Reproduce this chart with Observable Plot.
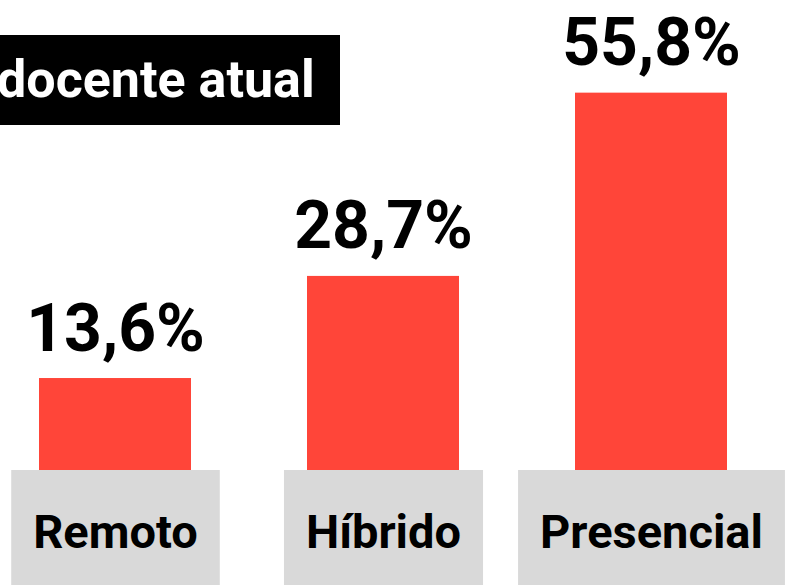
<!DOCTYPE html>
<html>
<head>
<meta charset="utf-8">
<script src="https://cdn.jsdelivr.net/npm/d3@7"></script>
<script src="https://cdn.jsdelivr.net/npm/@observablehq/plot@0.6"></script>
<style>
  html, body { margin: 0; padding: 0; background: #ffffff; }
  #wrap { position: relative; width: 787px; height: 585px; overflow: hidden; }
  #title {
    position: absolute; left: 0; top: 35px; width: 340px; height: 90px;
    background: #000000; color: #ffffff;
    font-family: Roboto, "Noto Sans", sans-serif; font-weight: 700; font-size: 52px;
    line-height: 90px; white-space: nowrap; box-sizing: border-box; padding-left: 0;
    text-indent: -3px; z-index: 2;
  }
  svg { display: block; }
</style>
</head>
<body>
<div id="wrap">
  <div id="title"></div>
</div>
<script>
const categories = ["Remoto", "Híbrido", "Presencial"];
const values = [13.6, 28.7, 55.8];
const valueLabels = ["13,6%", "28,7%", "55,8%"];
const titleText = "docente atual";

const data = categories.map((c, i) => ({category: c, value: values[i], label: valueLabels[i]}));

const chart = Plot.plot({
  width: 787,
  height: 585,
  marginTop: 0,
  marginBottom: 115,
  marginLeft: 39,
  marginRight: 60,
  style: {background: "transparent", fontFamily: "Roboto, 'Noto Sans', sans-serif"},
  x: {type: "band", domain: categories, paddingInner: 0.433, paddingOuter: 0, axis: null},
  y: {domain: [0, 69.5], axis: null},
  marks: [
    Plot.barY(data, {x: "category", y: "value", fill: "#ff4539"}),
    Plot.text(data, {
      x: "category", y: "value", text: "label",
      lineAnchor: "bottom", dy: -28,
      fontSize: 66, fontWeight: 700, fill: "#000000"
    }),
    Plot.text(categories, {
      x: d => d, frameAnchor: "bottom", text: d => d,
      lineAnchor: "bottom", dy: 77,
      fontSize: 47, fontWeight: 700, fill: "#000000"
    })
  ]
});

document.getElementById("wrap").appendChild(chart);
document.getElementById("title").textContent = titleText;

// gray label boxes sized to each category label
const y0 = chart.scale("y").apply(0);
const svgRect = chart.getBoundingClientRect();
const catTexts = Array.from(chart.querySelectorAll("text"))
  .filter(t => categories.includes(t.textContent));
const boxes = catTexts.map(t => {
  const r = t.getBoundingClientRect();
  return {x: r.left - svgRect.left - 22, w: r.width + 44};
});
if (catTexts.length) {
  const parent = catTexts[0].parentNode;
  const g = document.createElementNS("http://www.w3.org/2000/svg", "g");
  parent.parentNode.insertBefore(g, parent);
  d3.select(g).selectAll("rect").data(boxes).join("rect")
    .attr("x", d => d.x).attr("width", d => d.w)
    .attr("y", y0).attr("height", 585 - y0)
    .attr("fill", "#d9d9d9");
}
</script>
</body>
</html>
